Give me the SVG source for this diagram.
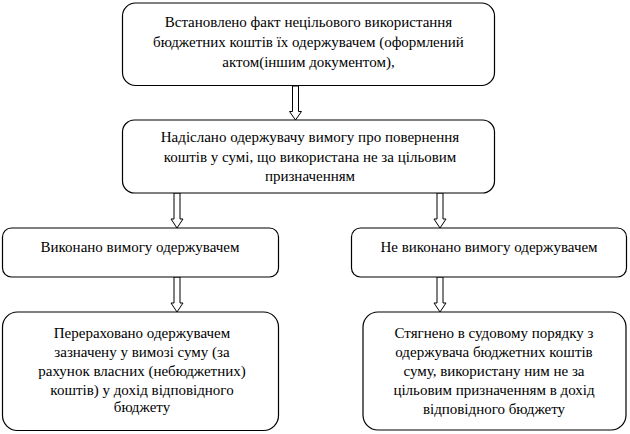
<svg xmlns="http://www.w3.org/2000/svg" width="630" height="434" viewBox="0 0 630 434" font-family="Liberation Serif, DejaVu Serif, serif">
<style>
.box{fill:#fff;stroke:#000;stroke-width:1.2}
.arr{fill:#fff;stroke:#000;stroke-width:1}
.t{font-size:15px;fill:#000;text-anchor:middle}
</style>
<rect width="630" height="434" fill="#fff"/>
<g id="connectors">
<polygon class="arr" points="292.5,86 298.5,86 298.5,111.5 301.5,111.5 295.5,120 289.5,111.5 292.5,111.5"/>
<polygon class="arr" points="174,193 180,193 180,219 183,219 177,228 171,219 174,219"/>
<polygon class="arr" points="437,193 443,193 443,219 446,219 440,228 434,219 437,219"/>
<polygon class="arr" points="174,277 180,277 180,303 183,303 177,312 171,303 174,303"/>
<polygon class="arr" points="437,277 443,277 443,303 446,303 440,312 434,303 437,303"/>
</g>
<g id="n1" class="t">
<rect class="box" x="122.5" y="3" width="372" height="82.5" rx="13" ry="13"/>
<text x="308.5" y="27">Встановлено факт нецільового використання</text>
<text x="308.5" y="47">бюджетних коштів їх одержувачем (оформлений</text>
<text x="308.5" y="67">актом(іншим документом),</text>
</g>
<g id="n2" class="t">
<rect class="box" x="122.5" y="120" width="372" height="73" rx="12" ry="12"/>
<text x="310" y="142">Надіслано одержувачу вимогу про повернення</text>
<text x="310" y="162">коштів у сумі, що використана не за цільовим</text>
<text x="310" y="181">призначенням</text>
</g>
<g id="n3" class="t">
<rect class="box" x="2.5" y="228" width="276" height="49" rx="9" ry="9"/>
<text x="140" y="252">Виконано вимогу одержувачем</text>
</g>
<g id="n4" class="t">
<rect class="box" x="351.5" y="228" width="275" height="49" rx="9" ry="9"/>
<text x="489" y="252">Не виконано вимогу одержувачем</text>
</g>
<g id="n5" class="t">
<rect class="box" x="2.5" y="312" width="276" height="118.5" rx="15" ry="15"/>
<text x="142" y="338">Перераховано одержувачем</text>
<text x="142" y="357">зазначену у вимозі суму (за</text>
<text x="142" y="376">рахунок власних (небюджетних)</text>
<text x="142" y="395">коштів) у дохід відповідного</text>
<text x="142" y="412">бюджету</text>
</g>
<g id="n6" class="t">
<rect class="box" x="363" y="312" width="263" height="118" rx="15" ry="15"/>
<text x="494" y="338">Стягнено в судовому порядку з</text>
<text x="494" y="357">одержувача бюджетних коштів</text>
<text x="494" y="376">суму, використану ним не за</text>
<text x="494" y="395">цільовим призначенням в дохід</text>
<text x="494" y="414">відповідного бюджету</text>
</g>
</svg>
